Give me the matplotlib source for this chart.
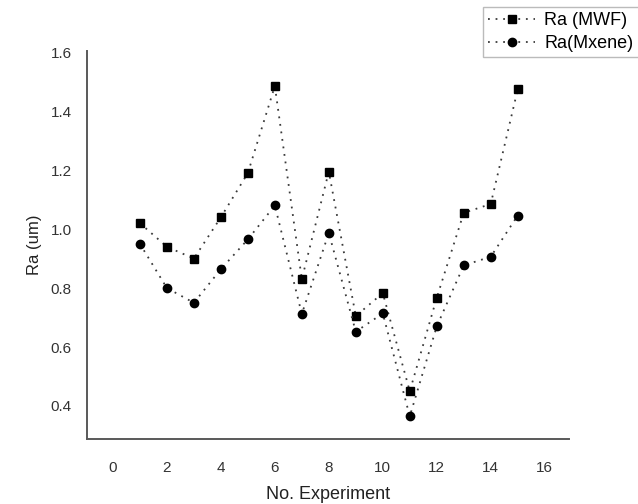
import matplotlib
matplotlib.use("Agg")
import matplotlib.pyplot as plt

plt.rcParams['font.family'] = ['Liberation Sans', 'DejaVu Sans']

experiment = [1, 2, 3, 4, 5, 6, 7, 8, 9, 10, 11, 12, 13, 14, 15]
ra_mwf = [1.02, 0.94, 0.90, 1.04, 1.19, 1.485, 0.83, 1.195, 0.705, 0.783, 0.45, 0.767, 1.055, 1.085, 1.474]
ra_mxene = [0.95, 0.80, 0.75, 0.864, 0.965, 1.08, 0.712, 0.987, 0.652, 0.714, 0.365, 0.670, 0.877, 0.906, 1.046]

x_ticks = [0, 2, 4, 6, 8, 10, 12, 14, 16]
y_ticks = [0.4, 0.6, 0.8, 1.0, 1.2, 1.4, 1.6]

fig = plt.figure(figsize=(6.38, 5.04), dpi=100)
ax = fig.add_axes([87 / 638, 65 / 504, 482 / 638, 388 / 504])

line_kw = dict(color='#3a3a3a', linewidth=1.3, linestyle=(0, (1, 3.2)),
               markerfacecolor='black', markeredgecolor='black', markersize=6)
ax.plot(experiment, ra_mwf, marker='s', label='Ra (MWF)', **line_kw)
ax.plot(experiment, ra_mxene, marker='o', label='Ra(Mxene)', **line_kw)

ax.set_xlim(-0.96, 16.9)
ax.set_ylim(0.288, 1.604)
ax.set_xticks(x_ticks)
ax.set_yticks(y_ticks)
ax.set_yticklabels([f"{v:.1f}" for v in y_ticks])
ax.tick_params(length=0, labelsize=11, colors='#333333', pad=11)
ax.tick_params(axis='x', pad=16)

for side in ['top', 'right']:
    ax.spines[side].set_visible(False)
for side in ['left', 'bottom']:
    ax.spines[side].set_color('#595959')
    ax.spines[side].set_linewidth(1.4)

ax.set_xlabel('No. Experiment', fontsize=13, color='#222222', labelpad=8)
ax.set_ylabel('Ra (um)', fontsize=12, color='#222222', labelpad=6)

fig.legend(loc='upper left', bbox_to_anchor=(483 / 638, 1 - 7 / 504),
           bbox_transform=fig.transFigure, borderaxespad=0,
           fontsize=13, frameon=True, fancybox=False, edgecolor='#aaaaaa',
           handlelength=2.6, handletextpad=0.5, borderpad=0.3, labelspacing=0.3)

fig.savefig('out.png', dpi=100)
